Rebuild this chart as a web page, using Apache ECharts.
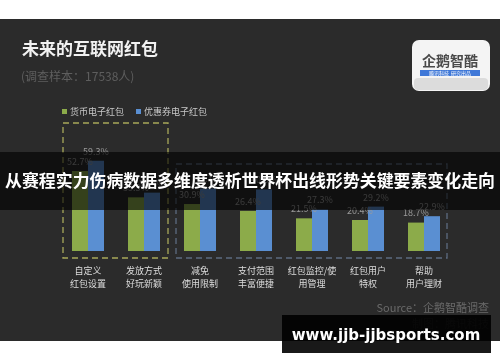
<!DOCTYPE html>
<html><head><meta charset="utf-8">
<script src="https://cdn.jsdelivr.net/npm/echarts@6/dist/echarts.min.js"></script>
<style>html,body{margin:0;padding:0;background:#fff}#c{width:500px;height:362px}</style>
</head><body><div id="c"></div>
<script>
var categories = ['自定义\n红包设置','发放方式\n好玩新颖','减免\n使用限制','支付范围\n丰富便捷','红包监控/使\n用管理','红包用户\n特权','帮助\n用户理财'];
var seriesNames = ['货币电子红包','优惠券电子红包'];
var cashValues = [52.7, 35.3, 30.9, 26.4, 21.5, 20.4, 18.7];
var couponValues = [59.3, 38.4, 41.1, 40.5, 27.3, 29.2, 22.9];
var FONT = '"Noto Sans CJK SC", "Noto Sans", sans-serif';

var chart = echarts.init(document.getElementById('c'), null, {renderer:'canvas'});
var lbl = {show:true, position:'top', distance:5, formatter:'{c}%', color:'#9a9a9a', fontSize:9, fontFamily:FONT};
chart.setOption({
  backgroundColor:'#ffffff',
  animation:false,
  textStyle:{fontFamily:FONT},
  legend:{
    data:seriesNames, left:57, top:102, itemWidth:5, itemHeight:5, itemGap:12, icon:'rect',
    textStyle:{color:'#c8c8c8', fontSize:9, fontFamily:FONT, padding:[0,0,0,-2]}
  },
  grid:{left:60, right:48, top:99, bottom:111, containLabel:false},
  xAxis:{type:'category', data:categories,
    axisLine:{show:false}, axisTick:{show:false}, splitLine:{show:false},
    axisLabel:{color:'#dddddd', fontSize:9, lineHeight:13, margin:13, interval:0, fontFamily:FONT}},
  yAxis:{type:'value', min:0, max:100, show:false, splitLine:{show:false}},
  series:[
    {name:seriesNames[0], type:'bar', data:cashValues, barWidth:16, barGap:'0%', itemStyle:{color:'#8cab4a'}, label:lbl},
    {name:seriesNames[1], type:'bar', data:couponValues, barWidth:16, barGap:'0%', itemStyle:{color:'#5a8fd2'}, label:lbl}
  ],
  graphic:[
    {type:'rect', z:-10, silent:true, shape:{x:0,y:19,width:500,height:322}, style:{fill:'#2b2b2b'}},
    {type:'text', z:10, style:{x:22, y:49, text:'未来的互联网红包', fill:'#f2f2f2', font:'bold 17px '+FONT, textVerticalAlign:'middle'}},
    {type:'text', z:10, style:{x:21, y:76, text:'(调查样本：17538人)', fill:'#5e5e5e', font:'12px '+FONT, textVerticalAlign:'middle'}},
    // logo
    {type:'rect', z:10, shape:{x:412,y:40,width:78,height:51,r:7}, style:{fill:'#f4f4f4'}},
    {type:'rect', z:10, shape:{x:414,y:78,width:74,height:12,r:4}, style:{fill:'#dcdcdc'}},
    {type:'text', z:11, style:{x:450, y:61, text:'企鹅智酷', fill:'#4a4a4a', font:'bold 14px '+FONT, textAlign:'center', textVerticalAlign:'middle'}},
    {type:'rect', z:11, shape:{x:420,y:70,width:60,height:6}, style:{fill:'#3f78d8'}},
    {type:'text', z:12, style:{x:450, y:73, text:'腾讯科技  研究出品', fill:'#ffffff', font:'5px '+FONT, textAlign:'center', textVerticalAlign:'middle'}},
    // dashed boxes
    {type:'rect', z:5, shape:{x:63,y:123,width:105,height:135}, style:{fill:'none', stroke:'#a8a85a', lineWidth:1.3, lineDash:[6,4]}},
    {type:'rect', z:5, shape:{x:176,y:164,width:271,height:94}, style:{fill:'none', stroke:'#5c6b80', lineWidth:1.3, lineDash:[6,4]}},
    // source
    {type:'text', z:10, style:{x:489, y:308, text:'Source：企鹅智酷调查', fill:'#6a6a6a', font:'11px '+FONT, textAlign:'right', textVerticalAlign:'middle'}},
    {type:'text', z:10, style:{x:489, y:324, text:'制图：腾讯科技', fill:'#5a5a5a', font:'11px '+FONT, textAlign:'right', textVerticalAlign:'middle'}},
    // overlay banner
    {type:'rect', z:50, shape:{x:0,y:152,width:500,height:58}, style:{fill:'rgba(0,0,0,0.62)'}},
    {type:'text', z:51, style:{x:250, y:181, text:'从赛程实力伤病数据多维度透析世界杯出线形势关键要素变化走向', fill:'#ffffff', font:'bold 16.9px '+FONT, textAlign:'center', textVerticalAlign:'middle'}},
    // watermark
    {type:'rect', z:50, shape:{x:282,y:315,width:209,height:38}, style:{fill:'rgba(0,0,0,0.9)'}},
    {type:'text', z:51, style:{x:386, y:336, text:'www.jjb-jjbsports.com', fill:'#ffffff', font:'bold 15px "DejaVu Sans", sans-serif', textAlign:'center', textVerticalAlign:'middle'}}
  ]
});
</script></body></html>
